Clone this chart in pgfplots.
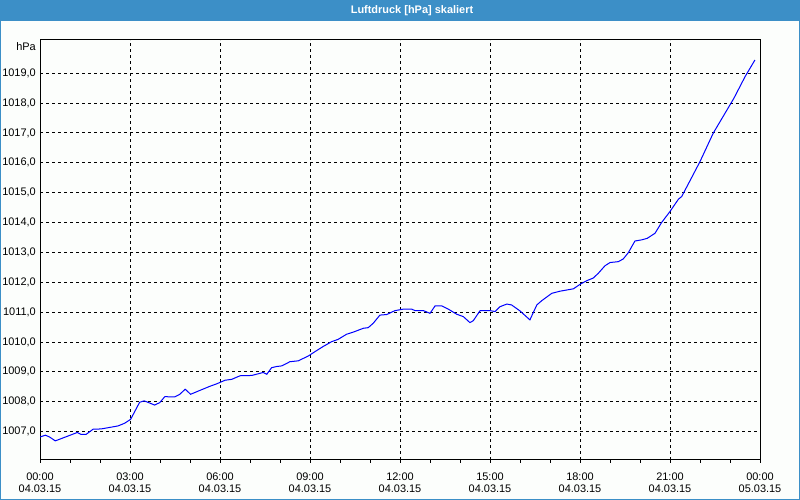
\documentclass[border=0pt]{standalone}
\usepackage{pgfplots}
\pgfplotsset{compat=1.18}
\usepackage{fontspec}
\setmainfont{Liberation Sans}
\definecolor{barblue}{RGB}{60,143,199}
\definecolor{bgc}{RGB}{252,254,252}
\begin{document}
\begin{tikzpicture}[x=1bp,y=1bp]
\fill[bgc] (0,0) rectangle (800,500);
\fill[barblue] (0,479) rectangle (800,500);
\draw[barblue, line width=1bp] (0.5,0.5) rectangle (799.5,499.5);
\node[text=white, font=\fontsize{11}{13}\selectfont\bfseries, inner sep=0pt] at (412,489.5) {Luftdruck [hPa] skaliert};
\begin{axis}[
  at={(40bp,40bp)}, anchor=south west,
  width=720bp, height=420bp, scale only axis,
  xmin=0, xmax=24, ymin=1006.05, ymax=1020.11,
  axis line style={line width=1bp, black},
  xtick={0,3,...,24},
  minor xtick={1,2,...,23},
  xticklabels={{00:00\\[-2bp]04.03.15},{03:00\\[-2bp]04.03.15},{06:00\\[-2bp]04.03.15},{09:00\\[-2bp]04.03.15},{12:00\\[-2bp]04.03.15},{15:00\\[-2bp]04.03.15},{18:00\\[-2bp]04.03.15},{21:00\\[-2bp]04.03.15},{00:00\\[-2bp]05.03.15}},
  ytick={1007,1008,...,1019},
  yticklabels={{1007,0},{1008,0},{1009,0},{1010,0},{1011,0},{1012,0},{1013,0},{1014,0},{1015,0},{1016,0},{1017,0},{1018,0},{1019,0}},
  tick align=outside,
  xtick pos=bottom, ytick pos=left,
  major tick length=3bp, minor tick length=3bp,
  every tick/.style={black, line width=1bp},
  ytick style={draw=none},
  xmajorgrids, ymajorgrids,
  major grid style={black, line width=1bp, dash pattern=on 3bp off 3bp},
  tick label style={font=\fontsize{11}{14}\selectfont},
  xticklabel style={align=center, inner sep=0pt, yshift=-10bp},
  yticklabel style={inner sep=0pt, xshift=-1bp},
]
\addplot[blue, line width=1bp] coordinates {
(0.00,1006.82) (0.18,1006.88) (0.32,1006.82) (0.51,1006.69) (1.24,1006.97)
(1.36,1006.91) (1.54,1006.91) (1.77,1007.08) (2.04,1007.09) (2.6,1007.19)
(2.82,1007.28) (3.02,1007.41) (3.32,1007.98) (3.47,1008.03) (3.6,1007.98)
(3.82,1007.89) (3.99,1007.97) (4.16,1008.17) (4.49,1008.16) (4.66,1008.25)
(4.84,1008.42) (5.02,1008.25) (5.33,1008.38) (5.67,1008.52) (5.89,1008.60)
(6.17,1008.72) (6.39,1008.75) (6.67,1008.87) (7.06,1008.88) (7.44,1008.98)
(7.56,1008.92) (7.72,1009.14) (7.89,1009.18) (8.06,1009.2) (8.33,1009.34)
(8.61,1009.37) (8.94,1009.53) (9.17,1009.68) (9.44,1009.85) (9.72,1010.01)
(9.94,1010.09) (10.22,1010.26) (10.44,1010.33) (10.78,1010.46) (10.94,1010.48)
(11.11,1010.63) (11.33,1010.9) (11.56,1010.92) (11.83,1011.05) (12.11,1011.1)
(12.39,1011.1) (12.5,1011.05) (12.78,1011.05) (13.0,1010.96) (13.17,1011.21)
(13.39,1011.21) (13.61,1011.1) (13.89,1010.93) (14.11,1010.85) (14.33,1010.65)
(14.44,1010.71) (14.67,1011.05) (15.0,1011.05) (15.17,1011.02) (15.33,1011.18)
(15.56,1011.27) (15.72,1011.24) (16.0,1011.04) (16.33,1010.74) (16.56,1011.24)
(16.72,1011.38) (17.06,1011.63) (17.33,1011.70) (17.78,1011.78) (18.0,1011.93)
(18.22,1012.05) (18.44,1012.14) (18.61,1012.3) (18.83,1012.55) (19.0,1012.66)
(19.28,1012.69) (19.44,1012.78) (19.61,1012.99) (19.83,1013.38) (20.06,1013.42)
(20.24,1013.47) (20.5,1013.64) (20.72,1014.0) (21.0,1014.37) (21.28,1014.78)
(21.39,1014.87) (22.0,1016.04) (22.44,1016.99) (23.0,1017.94) (23.13,1018.16)
(23.5,1018.88) (23.83,1019.44)
};
\end{axis}
\node[anchor=east, inner sep=0pt, font=\fontsize{11}{13}\selectfont] at (36,453.3) {hPa};
\pgfresetboundingbox
\path (0,0) rectangle (800,500);
\end{tikzpicture}
\end{document}
